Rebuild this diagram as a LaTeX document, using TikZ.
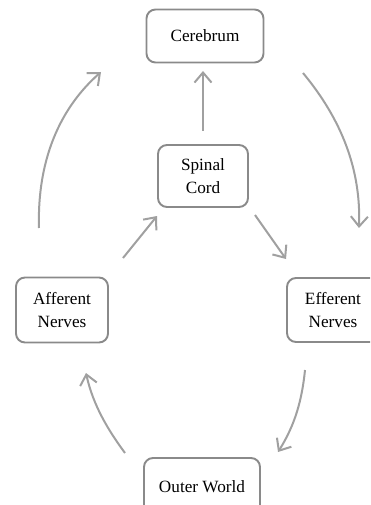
\documentclass[tikz,border=0pt]{standalone}
\usepackage{fontspec}
\setmainfont{Liberation Serif}
\usetikzlibrary{arrows.meta}
\definecolor{boxline}{HTML}{8A8A8A}
\definecolor{flow}{HTML}{A0A0A0}
\begin{document}
\begin{tikzpicture}[x=1pt,y=-1pt,
  organ/.style={draw=boxline, line width=1.9pt, rounded corners=9pt,
    align=center, inner sep=0pt, font=\fontsize{17.2}{22.5}\selectfont},
  link/.style={draw=flow, line width=2pt,
    -{Straight Barb[length=10pt,width=17pt,line width=2pt]}}]
\useasboundingbox (0,0) rectangle (370,505);
\clip (0,0) rectangle (370,505);
% organs of the loop
\node[organ, minimum width=117pt, minimum height=53pt] (cerebrum) at (205,36) {Cerebrum};
\node[organ, minimum width=90pt, minimum height=62pt] (spine) at (203,176) {Spinal\\Cord};
\node[organ, minimum width=92pt, minimum height=65pt] (aff) at (62,310) {Afferent\\Nerves};
\node[organ, minimum width=92pt, minimum height=64pt] (eff) at (333,310) {Efferent\\Nerves};
\node[organ, minimum width=116pt, minimum height=58pt] (world) at (202,487) {Outer World};
% connector end points
\coordinate (a1) at (39,228);  \coordinate (a2) at (101,72);
\coordinate (b1) at (303,73);  \coordinate (b2) at (359,228);
\coordinate (c1) at (305,370); \coordinate (c2) at (278,452);
\coordinate (d1) at (125,453); \coordinate (d2) at (86,373);
\coordinate (s1) at (203,131); \coordinate (s2) at (203,71);
\coordinate (p1) at (123,258); \coordinate (p2) at (157,216);
\coordinate (q1) at (255,215); \coordinate (q2) at (286,259);
% reflex paths
\draw[link] (s1) -- (s2);
\draw[link] (p1) -- (p2);
\draw[link] (q1) -- (q2);
\draw[link] (a1) .. controls (37,160) and (60,108) .. (a2);
\draw[link] (b1) .. controls (342,120) and (361,170) .. (b2);
\draw[link] (c1) .. controls (302,400) and (295,425) .. (c2);
\draw[link] (d1) .. controls (108,430) and (93,405) .. (d2);
\end{tikzpicture}
\end{document}
